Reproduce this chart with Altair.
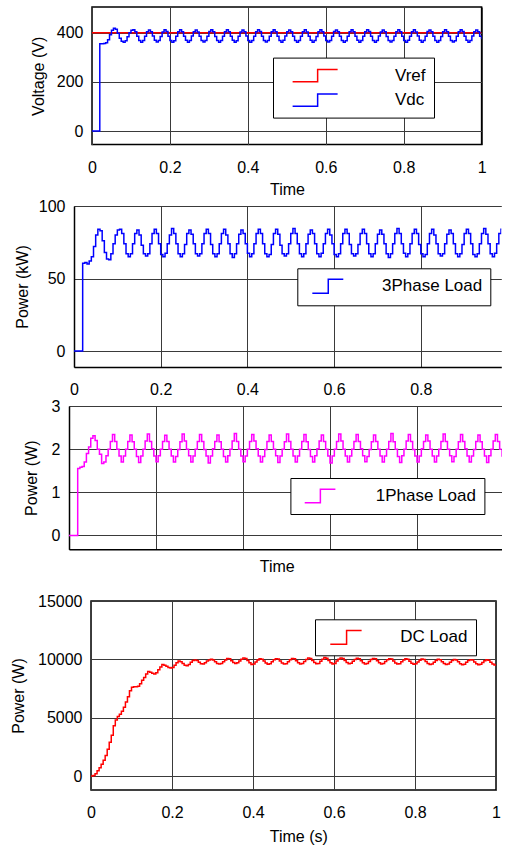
import altair as alt
import pandas as pd

FONT = "Liberation Sans"
GRID = "#3a3a3a"

# sample times (s), 5 ms grid
T = [round(i * 0.005, 3) for i in range(201)]

VREF_T = [0.0, 1.0]
VREF_V = [400, 400]

VDC = [0, 0, 0, 0,
       355, 355, 356, 360, 372, 392, 410, 419, 414, 398, 378, 366, 362, 368, 384, 400, 410,
       412, 404, 386, 369, 362, 369, 386, 404,
       411, 404, 387, 370, 363, 369, 385, 403,
       412, 405, 386, 369, 362, 368, 386, 404,
       412, 404, 386, 370, 362, 369, 387, 404,
       411, 403, 386, 369, 363, 369, 386, 405,
       412, 404, 385, 369, 362, 369, 386, 404,
       412, 404, 386, 370, 362, 368, 386, 403,
       411, 404, 387, 369, 362, 369, 386, 404,
       412, 405, 386, 369, 363, 369, 386, 404,
       412, 404, 386, 369, 362, 370, 387, 404,
       411, 404, 386, 369, 362, 369, 386, 404,
       412, 403, 386, 370, 362, 369, 385, 404,
       412, 404, 387, 369, 363, 369, 386, 405,
       411, 404, 386, 369, 362, 368, 386, 404,
       412, 404, 386, 370, 362, 369, 386, 404,
       412, 405, 386, 369, 362, 369, 387, 403,
       411, 404, 385, 369, 363, 369, 386, 404,
       412, 404, 386, 369, 362, 370, 386, 404,
       412, 403, 387, 370, 362, 369, 386, 405,
       411, 404, 386, 369, 362, 369, 385, 404,
       412, 404, 386, 369, 363, 368, 386, 404,
       412, 405, 386, 370, 362, 369, 387, 404,
       411, 404, 386, 374]

P3PH = [0, 0, 0, 0,
        60.5, 61, 60, 62, 65, 72, 80, 84, 83, 76, 68, 63.5, 63, 67, 74, 80, 83.5,
        84, 81, 74, 67, 65, 67, 74, 81,
        83.5, 80, 73, 67, 65.5, 67, 74, 81,
        84, 81, 74, 66.5, 65, 67.5, 74, 80,
        84.5, 81, 74, 67, 65, 67, 73.5, 81,
        83.5, 80.5, 74, 67, 65.5, 67, 74, 81,
        84, 81, 73.5, 67, 65, 67, 74, 81,
        84, 80, 74, 67, 64.5, 67, 74, 80.5,
        83.5, 81, 74, 67.5, 65, 67, 74, 81,
        84, 81, 74, 67, 65, 66.5, 73.5, 81,
        84, 80.5, 73, 67, 65.5, 67, 74, 81,
        84.5, 81, 74, 67, 65, 67, 74, 80.5,
        83.5, 81, 74, 67, 65, 67.5, 74, 81,
        84, 80, 74, 66.5, 65, 67, 74, 81,
        84, 81, 73.5, 67, 65.5, 67, 73.5, 81,
        84, 81, 74, 67, 65, 67, 74, 80.5,
        83.5, 80.5, 74, 67, 64.5, 67, 74, 81,
        84.5, 81, 74, 67.5, 65, 67, 74, 81,
        84, 81, 73.5, 67, 65, 66.5, 74, 81,
        84, 80, 74, 67, 65.5, 67, 74, 80.5,
        83.5, 81, 74, 67, 65, 67, 73.5, 81,
        84, 81, 74, 66.5, 65, 67, 74, 81,
        84.5, 80.5, 74, 67, 65, 67.5, 74, 81,
        84, 81, 74, 68]

P1PH = [0, 0, 0, 0,
        1.55, 1.58, 1.6, 1.7, 1.9, 2.05, 2.25, 2.31, 2.2, 2.0, 1.88, 1.67, 1.7, 1.85, 2.0, 2.18,
        2.34, 2.18, 2.0, 1.84, 1.7, 1.84, 2.0, 2.18,
        2.33, 2.17, 2.0, 1.83, 1.69, 1.84, 2.0, 2.19,
        2.35, 2.18, 2.01, 1.84, 1.71, 1.85, 2.0, 2.18,
        2.32, 2.18, 2.0, 1.84, 1.7, 1.83, 1.99, 2.17,
        2.35, 2.19, 2.0, 1.85, 1.7, 1.84, 2.0, 2.18,
        2.34, 2.18, 1.99, 1.84, 1.68, 1.84, 2.01, 2.18,
        2.33, 2.17, 2.0, 1.83, 1.7, 1.85, 2.0, 2.19,
        2.36, 2.18, 2.0, 1.84, 1.71, 1.84, 2.0, 2.18,
        2.34, 2.19, 2.01, 1.84, 1.7, 1.83, 1.99, 2.18,
        2.33, 2.18, 2.0, 1.85, 1.69, 1.84, 2.0, 2.17,
        2.35, 2.18, 2.0, 1.84, 1.7, 1.84, 2.0, 2.18,
        2.34, 2.17, 1.99, 1.83, 1.7, 1.85, 2.01, 2.19,
        2.33, 2.18, 2.0, 1.84, 1.68, 1.84, 2.0, 2.18,
        2.35, 2.19, 2.0, 1.84, 1.7, 1.84, 2.0, 2.18,
        2.34, 2.18, 2.01, 1.85, 1.71, 1.83, 1.99, 2.17,
        2.33, 2.18, 2.0, 1.84, 1.7, 1.84, 2.0, 2.18,
        2.36, 2.17, 2.0, 1.83, 1.69, 1.85, 2.0, 2.19,
        2.34, 2.18, 1.99, 1.84, 1.7, 1.84, 2.01, 2.18,
        2.33, 2.19, 2.0, 1.84, 1.7, 1.84, 2.0, 2.18,
        2.35, 2.18, 2.0, 1.85, 1.71, 1.83, 2.0, 2.17,
        2.34, 2.18, 2.01, 1.84, 1.7, 1.84, 1.99, 2.18,
        2.33, 2.17, 2.0, 1.84, 1.69, 1.85, 2.0, 2.19,
        2.34, 2.18, 2.0, 1.84, 1.7]

DCL = [0, 50, 200, 450, 700, 1000, 1350, 1750, 2300, 2900,
       3500, 4300, 4800, 5100, 5300, 5550, 5900, 6350, 6800, 7300,
       7600, 7650, 7650, 7700, 7900, 8200, 8450, 8750, 8950, 8900,
       8800, 8750, 8850, 9100, 9350, 9550, 9500, 9400, 9300, 9250,
       9300, 9500, 9700, 9850, 9800, 9650, 9500, 9450, 9550, 9750,
       9900, 9950, 9900, 9750, 9620, 9600, 9700, 9850, 9950, 10000,
       9950, 9800, 9650, 9600, 9650, 9800, 9950, 10080,
       10050, 9880, 9720, 9650, 9700, 9850, 10000, 10120,
       10080, 9900, 9700, 9550, 9600, 9780, 9950, 10050,
       10000, 9850, 9680, 9580, 9620, 9800, 9960, 10060,
       10020, 9860, 9690, 9590, 9630, 9800, 9970, 10080,
       10040, 9870, 9700, 9600, 9640, 9820, 9990, 10120,
       10080, 9900, 9720, 9620, 9650, 9840, 10000, 10150,
       10100, 9900, 9700, 9600, 9650, 9850, 10000, 10120,
       10080, 9900, 9720, 9620, 9660, 9840, 9990, 10100,
       10060, 9880, 9700, 9610, 9650, 9820, 9980, 10080,
       10040, 9870, 9700, 9600, 9640, 9810, 9960, 10060,
       10020, 9850, 9680, 9590, 9630, 9800, 9950, 10040,
       10000, 9840, 9670, 9580, 9620, 9780, 9930, 10020,
       9980, 9820, 9650, 9560, 9600, 9760, 9910, 10000,
       9960, 9800, 9640, 9550, 9590, 9750, 9900, 9980,
       9950, 9790, 9630, 9540, 9580, 9740, 9890, 9970,
       9940, 9780, 9620, 9540, 9570, 9730, 9880, 9960,
       9920, 9760, 9600, 9520, 9480]

NBSP = "\u00a0"


def frame(times, values, name):
    return pd.DataFrame({"t": times, "v": values, "s": name})


def panel(df, names, colors, xdom, xticks, xlabels, xtitle, xtitle_xy, xlabpad,
          ydom, yticks, ytitle, ytitle_x, width, height, leg, framed):
    xkw = dict(values=xticks, format="~g", grid=True, gridColor=GRID, gridWidth=1,
               ticks=False, tickSize=0, labels=xlabels, labelFont=FONT, labelFontSize=16,
               labelColor="black", labelPadding=xlabpad, labelFlush=False,
               domain=not framed, domainColor="black", domainWidth=1.5)
    if xtitle:
        xkw.update(title=xtitle, titleFont=FONT, titleFontSize=16, titleFontWeight="normal",
                   titleColor="black", titleX=xtitle_xy[0], titleY=xtitle_xy[1],
                   titleBaseline="middle", titleAlign="center")
    else:
        xkw.update(title=None)
    ykw = dict(values=yticks, format="d", grid=True, gridColor=GRID, gridWidth=1, ticks=False,
               tickSize=0, labelFont=FONT, labelFontSize=16, labelColor="black", labelPadding=9,
               labelFlush=False, domain=not framed, domainColor="black", domainWidth=1.5,
               title=ytitle, titleFont=FONT, titleFontSize=16, titleFontWeight="normal",
               titleColor="black", titleX=ytitle_x, titleY=height / 2, titleAngle=270,
               titleBaseline="middle", titleAlign="center")
    legend = alt.Legend(
        orient="none", legendX=leg["x"], legendY=leg["y"], title=None,
        fillColor="white", strokeColor="black", padding=8, cornerRadius=0,
        symbolType=leg["path"], symbolSize=324, symbolStrokeWidth=1.5,
        symbolFillColor="transparent", rowPadding=leg.get("rowpad", 6),
        labelOffset=leg["off"], labelFont=FONT, labelFontSize=17, labelColor="black",
        labelLimit=400, labelExpr=leg.get("expr", "datum.label"),
    )
    if framed:
        view = alt.ViewBackground(stroke="black", strokeWidth=1.5, fill="white")
    else:
        view = alt.ViewBackground(stroke="transparent", strokeWidth=0, fill="white")
    return alt.Chart(df).mark_line(interpolate="step-after", strokeWidth=1.5, clip=True).encode(
        x=alt.X("t:Q", scale=alt.Scale(domain=xdom, nice=False, zero=False), axis=alt.Axis(**xkw)),
        y=alt.Y("v:Q", scale=alt.Scale(domain=ydom, nice=False, zero=False), axis=alt.Axis(**ykw)),
        color=alt.Color("s:N", scale=alt.Scale(domain=names, range=colors), legend=legend),
        order=alt.Order("t:Q"),
    ).properties(width=width, height=height, view=view)


def spacer(w):
    return alt.Chart(pd.DataFrame({"a": [0]})).mark_point(opacity=0, size=1).encode(
        x=alt.X("a:Q", axis=None), y=alt.Y("a:Q", axis=None)
    ).properties(width=w, height=10,
                 view=alt.ViewBackground(fill="white", stroke="transparent", strokeWidth=0))


def indep(c):
    return c.resolve_scale(color="independent").resolve_legend(color="independent")


df1 = pd.concat([frame(VREF_T, VREF_V, "Vref"), frame(T, VDC, "Vdc")], ignore_index=True)
df2 = frame(T, P3PH, "3Phase Load")
df3 = frame(T, P1PH, "1Phase Load")
df4 = frame(T, DCL, "DC Load")

X6 = [0, 0.2, 0.4, 0.6, 0.8, 1]
X5 = [0, 0.2, 0.4, 0.6, 0.8]

p1 = panel(df1, ["Vref", "Vdc"], ["#ff0000", "#0000ff"], [0, 1], X6, True, "Time", (195, 45), 15,
           [-55, 505], [0, 200, 400], "Voltage (V)", -53.7, 389.6, 137.6,
           dict(x=181, y=50.6, path="M0.18,0.69H2.96V-0.69H5.18", off=94, rowpad=4.5,
                expr="datum.label + '" + NBSP * 4 + "'"), True)
p2 = panel(df2, ["3Phase Load"], ["#0000ff"], [0, 0.9857], X5, True, None, None, 14.5,
           [-11, 100], [0, 50, 100], "Power (kW)", -51.7, 427.3, 161,
           dict(x=223.3, y=62.3, path="M-0.33,0.78H1.44V-0.78H3.11", off=56.7), False)
p3 = panel(df3, ["1Phase Load"], ["#ff00ff"], [0, 0.9947], X5, False, "Time", (207.7, 16.7), 10,
           [-0.32, 3], [0, 1, 2, 3], "Power (W)", -37.3, 432.7, 143.3,
           dict(x=221.4, y=72, path="M-0.41,0.74H1.33V-0.74H3.0", off=57.3), False)
p4 = panel(df4, ["DC Load"], ["#ff0000"], [0, 1], X6, True, "Time (s)", (207.3, 46), 14,
           [-1200, 15000], [0, 5000, 10000, 15000], "Power (W)", -72.7, 405, 189,
           dict(x=224, y=18.3, path="M-0.3,0.76H1.51V-0.76H3.18", off=57.3), True)

r1 = indep(alt.hconcat(spacer(21), p1, spacing=0))
r2 = indep(alt.hconcat(spacer(6), p2, spacing=0))
r3 = indep(alt.hconcat(spacer(15), p3, spacing=0))
r4 = indep(alt.hconcat(spacer(1), p4, spacing=0))

g12 = indep(alt.vconcat(r1, r2, spacing=-1))
g123 = indep(alt.vconcat(g12, r3, spacing=0))

chart = indep(alt.vconcat(g123, r4, spacing=18)).properties(
    padding={"left": 8, "top": 6, "right": 0, "bottom": 0},
    background="white",
).configure_view(stroke="black")

chart.save("out.html", embed_options={"renderer": "svg", "actions": False})
